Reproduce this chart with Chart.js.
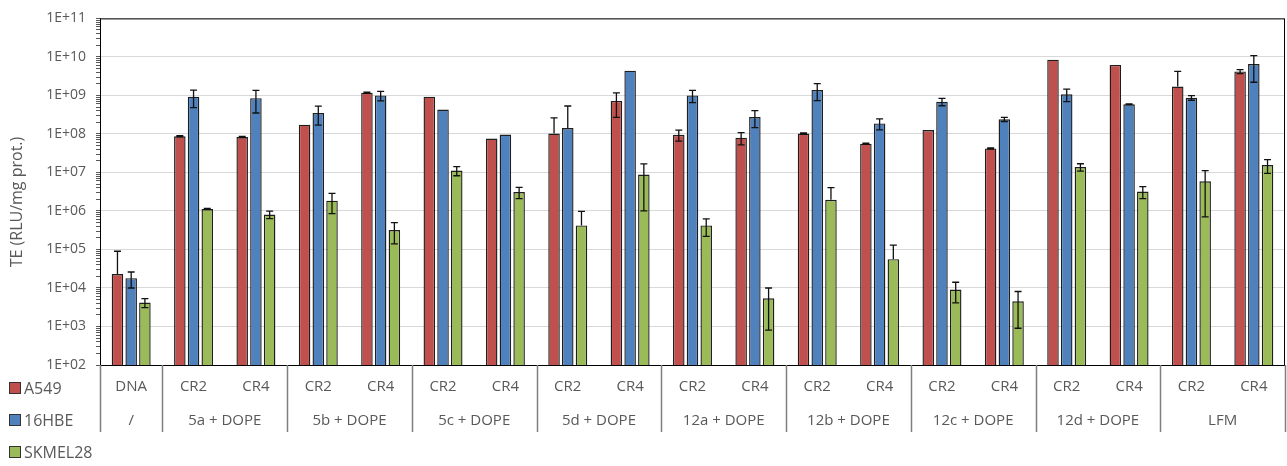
<!DOCTYPE html>
<html>
<head>
<meta charset="utf-8">
<script src="https://cdn.jsdelivr.net/npm/chart.js@4/dist/chart.umd.min.js"></script>
<style>
    body { margin: 0; background: #fff; }
    #wrap { width: 1287px; height: 466px; position: relative; }
</style>
</head>
<body>
<div id="wrap"><canvas id="chart"></canvas></div>
<script>
'use strict';

// подписи категорий (первая строка) и групп (вторая строка)
const categories = ['DNA', 'CR2', 'CR4', 'CR2', 'CR4', 'CR2', 'CR4', 'CR2', 'CR4',
    'CR2', 'CR4', 'CR2', 'CR4', 'CR2', 'CR4', 'CR2', 'CR4', 'CR2', 'CR4'];
const groups = ['/', '5a + DOPE', '5b + DOPE', '5c + DOPE', '5d + DOPE',
    '12a + DOPE', '12b + DOPE', '12c + DOPE', '12d + DOPE', 'LFM'];

// значения TE и стандартные отклонения
const a549 = [2.3e4, 8.7e7, 8.3e7, 1.74e8, 1.18e9, 9.3e8, 7.6e7, 1.02e8, 7.2e8, 9.5e7,
    8.0e7, 1.02e8, 5.6e7, 1.26e8, 4.2e7, 8.5e9, 6.2e9, 1.7e9, 4.2e9];
const a549Err = [6.7e4, 3e6, 3e6, 0, 4e7, 0, 0, 1.6e8, 4.5e8, 3e7,
    2.8e7, 4e6, 2e6, 0, 1.5e6, 0, 0, 2.5e9, 5e8];
const hbe = [1.8e4, 9.3e8, 8.5e8, 3.5e8, 1.0e9, 4.3e8, 9.6e7, 1.42e8, 4.4e9, 1.0e9,
    2.75e8, 1.38e9, 1.87e8, 6.9e8, 2.4e8, 1.07e9, 5.9e8, 8.7e8, 6.5e9];
const hbeErr = [8e3, 4.5e8, 5e8, 1.8e8, 2.8e8, 0, 0, 3.9e8, 0, 3.5e8,
    1.3e8, 6.5e8, 6e7, 1.5e8, 3e7, 3.8e8, 1.5e7, 1.2e8, 4.3e9];
const skmel = [4.2e3, 1.12e6, 8.1e5, 1.85e6, 3.2e5, 1.12e7, 3.1e6, 4.2e5, 8.8e6, 4.2e5,
    5.4e3, 1.95e6, 5.6e4, 9.1e3, 4.5e3, 1.38e7, 3.2e6, 5.9e6, 1.55e7];
const skmelErr = [1.1e3, 4e4, 1.8e5, 1e6, 1.8e5, 3e6, 1e6, 5.6e5, 7.8e6, 2e5,
    4.6e3, 2.1e6, 7.4e4, 5e3, 3.6e3, 3e6, 1.1e6, 5.2e6, 6e6];

// деления оси Y: 1..9 x 10^n
const yTicks = [];
for (let e = 2; e <= 10; e++)
    for (let m = 1; m <= 9; m++) yTicks.push(m * Math.pow(10, e));
yTicks.push(1e11);

const textColor = '#595959';
const fontFamily = "'Open Sans', sans-serif";

function isMajor(v) {
    let l = Math.log10(v);
    return Math.abs(l - Math.round(l)) < 1e-9;
}

function expLabel(v) {
    let e = Math.round(Math.log10(v));
    return '1E+' + String(e).padStart(2, '0');
}

/** Планки погрешностей поверх столбцов */
const errorBars = {
    id: 'errorBars',
    afterDatasetsDraw(chart) {
        const ctx = chart.ctx;
        const y = chart.scales.y;
        ctx.save();
        ctx.strokeStyle = '#111';
        ctx.lineWidth = 1.3;
        chart.data.datasets.forEach((ds, i) => {
            let meta = chart.getDatasetMeta(i);
            meta.data.forEach((bar, j) => {
                let v = ds.data[j];
                let sd = ds.errors[j];
                if (!sd) return;
                let top = y.getPixelForValue(v + sd);
                let bottom = v - sd > 0 ? y.getPixelForValue(v - sd) : bar.y;
                ctx.beginPath();
                ctx.moveTo(bar.x, top);
                ctx.lineTo(bar.x, bottom);
                ctx.moveTo(bar.x - 3.5, top);
                ctx.lineTo(bar.x + 3.5, top);
                if (v - sd > 0) {
                    ctx.moveTo(bar.x - 3.5, bottom);
                    ctx.lineTo(bar.x + 3.5, bottom);
                }
                ctx.stroke();
            });
        });
        ctx.restore();
    },
};

/** Рамка, таблица подписей снизу, легенда и заголовок оси */
const extras = {
    id: 'extras',
    afterDraw(chart) {
        const ctx = chart.ctx;
        const area = chart.chartArea;
        const x = chart.scales.x;
        ctx.save();
        // рамка области построения
        ctx.strokeStyle = '#000';
        ctx.lineWidth = 1;
        ctx.strokeRect(area.left + 0.5, area.top + 0.5,
            area.right - area.left - 1, area.bottom - area.top);

        // границы групп: DNA, затем по две категории
        let edges = [0];
        for (let i = 1; i < categories.length; i += 2) edges.push(i);
        edges.push(categories.length);
        let edgeX = (i) => {
            if (i <= 0) return area.left;
            if (i >= categories.length) return area.right;
            return (x.getPixelForValue(i - 1) + x.getPixelForValue(i)) / 2;
        };
        ctx.strokeStyle = '#7f7f7f';
        ctx.lineWidth = 1.5;
        for (let e of edges) {
            let px = Math.round(edgeX(e)) + 0.5;
            ctx.beginPath();
            ctx.moveTo(px, area.bottom);
            ctx.lineTo(px, area.bottom + 67);
            ctx.stroke();
        }

        ctx.fillStyle = textColor;
        ctx.font = '15px ' + fontFamily;
        ctx.textAlign = 'center';
        ctx.textBaseline = 'middle';
        categories.forEach((c, i) => {
            ctx.fillText(c, x.getPixelForValue(i), area.bottom + 22);
        });
        groups.forEach((g, k) => {
            let cx = (edgeX(edges[k]) + edgeX(edges[k + 1])) / 2;
            ctx.fillText(g, cx, area.bottom + 56);
        });

        // легенда
        ctx.textAlign = 'left';
        chart.data.datasets.forEach((ds, i) => {
            let cy = 388 + i * 32;
            ctx.fillStyle = ds.backgroundColor;
            ctx.fillRect(9.5, cy - 5.5, 11, 11);
            ctx.strokeStyle = '#333';
            ctx.lineWidth = 1;
            ctx.strokeRect(9.5, cy - 5.5, 11, 11);
            ctx.fillStyle = textColor;
            ctx.font = '16px ' + fontFamily;
            ctx.fillText(ds.label, 24, cy + 1);
        });

        // подпись оси Y
        ctx.translate(17, 202);
        ctx.rotate(-Math.PI / 2);
        ctx.textAlign = 'center';
        ctx.font = '16px ' + fontFamily;
        ctx.fillText('TE (RLU/mg prot.)', 0, 0);
        ctx.restore();
    },
};

function dataset(label, data, errors, color) {
    return {
        label,
        data,
        errors,
        backgroundColor: color,
        borderColor: '#1e1e1e',
        borderWidth: 1.4,
        categoryPercentage: 0.66,
        barPercentage: 0.84,
    };
}

const ctx = document.getElementById('chart').getContext('2d');
const chart = new Chart(ctx, {
    type: 'bar',
    data: {
        labels: categories,
        datasets: [
            dataset('A549', a549, a549Err, '#C0504D'),
            dataset('16HBE', hbe, hbeErr, '#4F81BD'),
            dataset('SKMEL28', skmel, skmelErr, '#9BBB59'),
        ],
    },
    options: {
        responsive: true,
        maintainAspectRatio: false,
        animation: false,
        layout: { padding: { top: 15, right: 2, left: 0, bottom: 0 } },
        plugins: {
            legend: { display: false },
            tooltip: { enabled: false },
        },
        scales: {
            x: {
                type: 'category',
                ticks: { display: false },
                grid: { display: false },
                border: { display: false },
                afterFit: (axis) => { axis.height = 101; },
            },
            y: {
                type: 'logarithmic',
                min: 100,
                max: 1e11,
                afterBuildTicks: (axis) => {
                    axis.ticks = yTicks.map((v) => ({ value: v }));
                },
                afterFit: (axis) => { axis.width = 100; },
                ticks: {
                    autoSkip: false,
                    padding: 10,
                    color: textColor,
                    font: { family: fontFamily, size: 14 },
                    callback: (v) => (isMajor(v) ? expLabel(v) : ''),
                },
                grid: {
                    color: (c) => (c.tick && isMajor(c.tick.value) ? '#d9d9d9' : 'rgba(0,0,0,0)'),
                    tickColor: '#595959',
                    tickLength: 4,
                },
                border: { color: '#404040' },
            },
        },
    },
    plugins: [errorBars, extras],
});
</script>
</body>
</html>
